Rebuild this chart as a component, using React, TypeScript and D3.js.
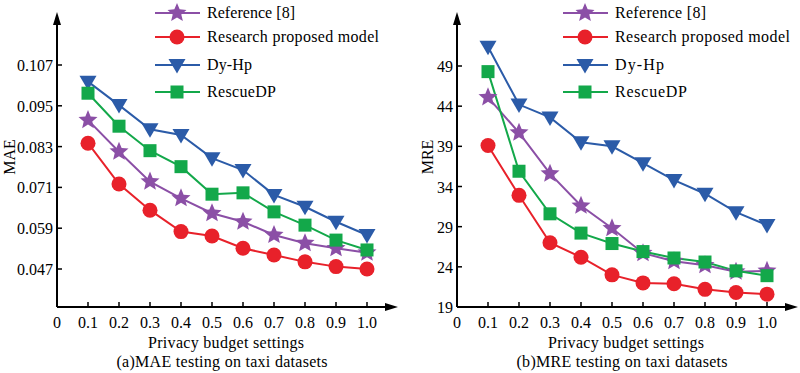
import { useEffect, useRef } from "react"
import * as d3 from "d3"

const budgets = [0.1, 0.2, 0.3, 0.4, 0.5, 0.6, 0.7, 0.8, 0.9, 1.0]
const xTicks = [0, 0.1, 0.2, 0.3, 0.4, 0.5, 0.6, 0.7, 0.8, 0.9, 1.0]

const maeRef8 = [0.0908, 0.0815, 0.0727, 0.0678, 0.0634, 0.0609, 0.057, 0.0546, 0.0531, 0.0518]
const maeProposed = [0.084, 0.072, 0.0643, 0.058, 0.0567, 0.0531, 0.0511, 0.0491, 0.0477, 0.047]
const maeDyHp = [0.1021, 0.0952, 0.0881, 0.0864, 0.0796, 0.0761, 0.0688, 0.0653, 0.0609, 0.057]
const maeRescue = [0.0987, 0.089, 0.0818, 0.0771, 0.069, 0.0694, 0.0638, 0.0599, 0.0555, 0.0526]
const maeTicks = [0.047, 0.059, 0.071, 0.083, 0.095, 0.107]

const mreRef8 = [45.1, 40.7, 35.6, 31.6, 28.8, 25.7, 24.7, 24.2, 23.4, 23.5]
const mreProposed = [39.1, 32.9, 27.0, 25.2, 23.0, 22.0, 21.9, 21.2, 20.8, 20.6]
const mreDyHp = [51.4, 44.2, 42.6, 39.5, 39.0, 36.9, 34.8, 33.1, 30.8, 29.2]
const mreRescue = [48.3, 35.9, 30.6, 28.2, 26.9, 25.9, 25.1, 24.6, 23.5, 22.9]
const mreTicks = [19, 24, 29, 34, 39, 44, 49]

const seriesNames = ["Reference [8]", "Research proposed model", "Dy-Hp", "RescueDP"]
const colors = ["#8b4fa6", "#e8212a", "#2b5ba8", "#13a84a"]
const shapes = ["star", "circle", "triangle", "square"]

const FONT = "'Liberation Serif', 'Times New Roman', serif"

function starPath(cx: number, cy: number, outer: number, inner: number) {
  let p = ""
  const step = Math.PI / 5
  for (let i = 0; i < 10; i++) {
    const r = i % 2 ? inner : outer
    const x = cx + Math.cos(i * step - Math.PI / 2) * r
    const y = cy + Math.sin(i * step - Math.PI / 2) * r
    p += (i === 0 ? "M" : "L") + x.toFixed(2) + "," + y.toFixed(2)
  }
  return p + "Z"
}

function drawMarker(g: any, shape: string, x: number, y: number, color: string) {
  if (shape === "star") {
    g.append("path").attr("d", starPath(x, y, 10, 4.5)).attr("fill", color)
  } else if (shape === "circle") {
    g.append("circle").attr("cx", x).attr("cy", y).attr("r", 7.5).attr("fill", color)
  } else if (shape === "triangle") {
    g.append("path")
      .attr("d", `M${x - 8.5},${y - 6}L${x + 8.5},${y - 6}L${x},${y + 8.5}Z`)
      .attr("fill", color)
  } else {
    g.append("rect").attr("x", x - 6.5).attr("y", y - 6.5).attr("width", 13).attr("height", 13).attr("fill", color)
  }
}

type Panel = {
  ox: number
  series: number[][]
  ticks: number[]
  yDomain: [number, number]
  yLabel: string
  yLabelX: number
  caption: string
  captionLen: number
  fmt: (v: number) => string
  legendX: number
  legendLens: number[]
}

export default function App() {
  const ref = useRef<SVGSVGElement>(null)

  useEffect(() => {
    const svg = d3.select(ref.current)
    svg.selectAll("*").remove()

    const panels: Panel[] = [
      {
        ox: 57,
        series: [maeRef8, maeProposed, maeDyHp, maeRescue],
        ticks: maeTicks,
        yDomain: [0.047 - (38 / 40.8) * 0.012, 0.107],
        yLabel: "MAE",
        yLabelX: 15,
        caption: "(a)MAE testing on taxi datasets",
        captionLen: 211,
        fmt: (v) => v.toFixed(3),
        legendX: 155,
        legendLens: [88, 172, 45, 69],
      },
      {
        ox: 457,
        series: [mreRef8, mreProposed, mreDyHp, mreRescue],
        ticks: mreTicks,
        yDomain: [19, 49],
        yLabel: "MRE",
        yLabelX: 433,
        caption: "(b)MRE testing on taxi datasets",
        captionLen: 211,
        fmt: (v) => String(v),
        legendX: 563,
        legendLens: [91, 175, 49, 72],
      },
    ]

    panels.forEach((p) => {
      const g = svg.append("g")
      const x = d3.scaleLinear().domain([0, 1]).range([p.ox, p.ox + 310])
      const bottomY = 307
      const topY = p.yLabel === "MAE" ? 65 : 66
      const y = d3.scaleLinear().domain(p.yDomain).range([bottomY, topY])

      // axes with arrows
      g.append("line").attr("x1", p.ox).attr("x2", p.ox).attr("y1", bottomY).attr("y2", 22)
        .attr("stroke", "#000").attr("stroke-width", 2)
      g.append("path")
        .attr("d", `M${p.ox - 4},${25}L${p.ox},${12}L${p.ox + 4},${25}Z`)
        .attr("fill", "#000")
      g.append("line").attr("x1", p.ox).attr("x2", p.ox + 330).attr("y1", bottomY).attr("y2", bottomY)
        .attr("stroke", "#000").attr("stroke-width", 2)
      g.append("path")
        .attr("d", `M${p.ox + 328},${bottomY - 4}L${p.ox + 341},${bottomY}L${p.ox + 328},${bottomY + 4}Z`)
        .attr("fill", "#000")

      p.ticks.forEach((t) => {
        const ty = y(t)
        if (Math.abs(ty - bottomY) > 1) {
          g.append("line").attr("x1", p.ox).attr("x2", p.ox + 5).attr("y1", ty).attr("y2", ty)
            .attr("stroke", "#000").attr("stroke-width", 1.5)
        }
        g.append("text").attr("x", p.ox - 4).attr("y", ty + 6).attr("text-anchor", "end")
          .attr("font-family", FONT).attr("font-size", 16).text(p.fmt(t))
      })

      xTicks.forEach((t) => {
        if (t > 0) {
          g.append("line").attr("x1", x(t)).attr("x2", x(t)).attr("y1", bottomY).attr("y2", bottomY - 5)
            .attr("stroke", "#000").attr("stroke-width", 1.5)
        }
        g.append("text").attr("x", x(t)).attr("y", 328).attr("text-anchor", "middle")
          .attr("font-family", FONT).attr("font-size", 16)
          .text(t === 0 ? "0" : t.toFixed(1))
      })

      g.append("text").attr("x", p.ox + 169).attr("y", 348).attr("text-anchor", "middle")
        .attr("font-family", FONT).attr("font-size", 16)
        .attr("textLength", 156).attr("lengthAdjust", "spacing")
        .text("Privacy budget settings")
      g.append("text").attr("x", p.ox + 165).attr("y", 367).attr("text-anchor", "middle")
        .attr("font-family", FONT).attr("font-size", 16)
        .attr("textLength", p.captionLen).attr("lengthAdjust", "spacing")
        .text(p.caption)
      g.append("text")
        .attr("transform", `translate(${p.yLabelX},${157}) rotate(-90)`)
        .attr("text-anchor", "middle").attr("font-family", FONT).attr("font-size", 16)
        .text(p.yLabel)

      const line = d3.line<number>().x((_, i) => x(budgets[i])).y((d) => y(d))

      p.series.forEach((s, si) => {
        g.append("path").attr("d", line(s)).attr("fill", "none")
          .attr("stroke", colors[si]).attr("stroke-width", 2)
      })
      p.series.forEach((s, si) => {
        s.forEach((v, i) => drawMarker(g, shapes[si], x(budgets[i]), y(v), colors[si]))
      })

      // legend
      const rows = [13, 37, 65, 92]
      seriesNames.forEach((name, si) => {
        const ly = rows[si]
        g.append("line").attr("x1", p.legendX).attr("x2", p.legendX + 45).attr("y1", ly).attr("y2", ly)
          .attr("stroke", colors[si]).attr("stroke-width", 2)
        drawMarker(g, shapes[si], p.legendX + 22, ly, colors[si])
        g.append("text").attr("x", p.legendX + 52).attr("y", ly + 5)
          .attr("font-family", FONT).attr("font-size", 16)
          .attr("textLength", p.legendLens[si]).attr("lengthAdjust", "spacing")
          .text(name)
      })
    })
  }, [])

  return (
    <div style={{ position: "absolute", left: 0, top: 0 }}>
      <svg ref={ref} width={800} height={373} style={{ display: "block", background: "#fff" }} />
    </div>
  )
}
